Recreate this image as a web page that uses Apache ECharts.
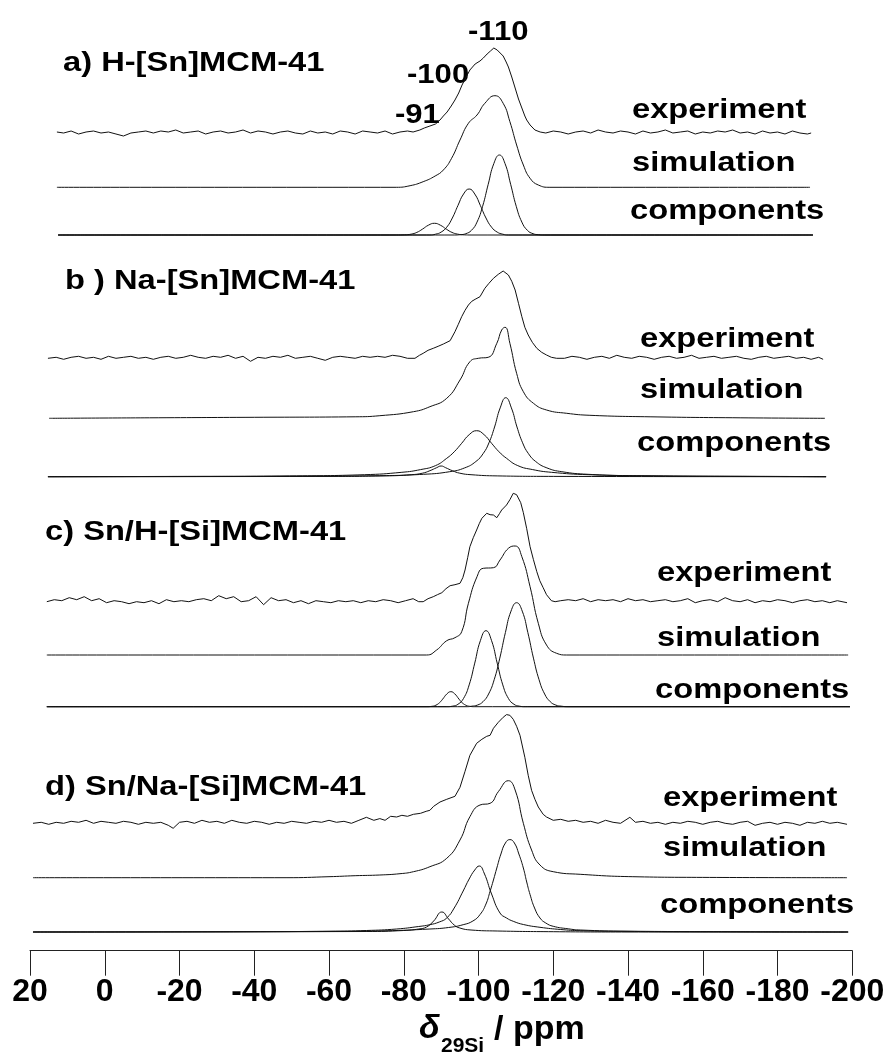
<!DOCTYPE html>
<html><head><meta charset="utf-8">
<script src="https://cdn.jsdelivr.net/npm/echarts@6/dist/echarts.min.js"></script>
<style>html,body{margin:0;padding:0;background:#fff}#c{width:894px;height:1059px}</style>
</head><body><div id="c"></div>
<script>
// ---------- tick labels / axis ----------
const xTicks = [20,0,-20,-40,-60,-80,-100,-120,-140,-160,-180,-200];
const panelTitles = ['a) H-[Sn]MCM-41','b ) Na-[Sn]MCM-41','c) Sn/H-[Si]MCM-41','d) Sn/Na-[Si]MCM-41'];
const traceNames = ['experiment','simulation','components'];
const peakLabels = ['-110','-100','-91'];

// ---------- panel a ----------
const expA = [[12.8,1],[11,0],[9,2],[7,-1],[5,1],[3,2],[1,0],[-1,1],[-3,-1],[-5,-3],[-7,0],[-9,1],[-11,2],[-13,0],[-15,2],[-17,1],[-19,3],[-21,0],[-23,1],[-25,2],[-27,-1],[-29,1],[-31,2],[-33,0],[-35,1],[-37,3],[-39,0],[-41,2],[-43,1],[-45,-1],[-47,1],[-49,2],[-51,0],[-53,-1],[-55,2],[-57,0],[-59,1],[-61,-1],[-63,2],[-65,1],[-67,-1],[-69,2],[-71,1],[-73,0],[-75,2],[-77,-1],[-79,1],[-81,2],[-82.5,1],
[-84.3,3],[-85.5,5],[-87,7],[-88.5,9],[-89.7,13],[-90.6,17],[-91.6,21],[-92.7,27],[-93.7,33],[-94.7,40],[-95.6,48],[-96.7,56],[-97.7,63],[-99.1,69],[-100.4,72],[-101.3,75],[-102.3,79],[-103.2,82],[-104.1,85],[-105,83],[-105.8,80],[-106.6,77],[-107.4,71],[-108,66],[-108.9,56],[-109.8,45],[-110.7,34],[-111.6,25],[-112.4,17],[-112.9,13],[-113.8,8],[-115.1,3],[-116.5,1],
[-118,0],[-120,2],[-122,1],[-124,-1],[-126,1],[-128,2],[-130,0],[-132,3],[-134,1],[-136,0],[-138,2],[-140,1],[-142,-1],[-144,2],[-146,0],[-148,1],[-150,3],[-152,0],[-154,1],[-156,2],[-158,-1],[-160,1],[-162,0],[-164,2],[-166,1],[-168,3],[-170,0],[-172,1],[-174,-1],[-176,2],[-178,0],[-180,1],[-182,-1],[-184,2],[-186,0],[-188,-1],[-189,0]];
const simA = [[12.8,0],[-78,0],[-81.7,1.6],[-85.2,5.6],[-88.4,11.3],[-90.6,17.3],[-92.8,29],[-95.05,47.3],[-97.3,64],[-99.6,72.3],[-101.7,84],[-104.4,91.6],[-106.6,84],[-108.4,65.6],[-110.2,42.3],[-112,22.3],[-113.8,9],[-116,2.3],[-119.1,0],[-188.7,0]];
const compA1 = [[12.5,0],[-78,0],[-80.2,0.15],[-82,0.87],[-83.5,2.6],[-85,5.85],[-86.6,9.8],[-88.2,11.7],[-89.8,9.8],[-91.4,5.85],[-92.9,2.6],[-94.4,0.87],[-96.2,0.15],[-98,0],[-189.5,0]];
const compA2 = [[12.5,0],[-87,0],[-88.5,0.8],[-90,2.9],[-91.5,7.8],[-93,17],[-94.5,29.5],[-96,41],[-97.5,46],[-99,41],[-100.5,29.5],[-102,17],[-103.5,7.8],[-105,2.9],[-106.5,0.8],[-108,0],[-189.5,0]];
const compA3 = [[12.5,0],[-93.5,0],[-95.1,0.3],[-96.6,1.3],[-98.1,4.6],[-99.6,12.9],[-101.1,28.7],[-102.6,50.7],[-104.1,71.4],[-105.6,80],[-107.1,71.4],[-108.6,50.7],[-110.1,28.7],[-111.6,12.9],[-113.1,4.6],[-114.6,1.3],[-116.1,0.3],[-117.6,0],[-189.5,0]];

// ---------- panel b ----------
const expB = [[15.2,0],[13,1],[11,-1],[9,1],[7,2],[5,0],[3,1],[1,-1],[-1,2],[-3,0],[-5,1],[-7,2],[-9,0],[-11,1],[-13,-1],[-15,1],[-17,2],[-19,0],[-21,1],[-23,3],[-25,1],[-27,0],[-29,2],[-31,1],[-33,3],[-35,0],[-37,2],[-39,-3],[-41,1],[-43,0],[-45,2],[-47,1],[-49,3],[-51,0],[-53,1],[-55,2],[-57,0],[-59,-2],[-61,1],[-63,2],[-65,1],[-67,0],[-69,2],[-71,1],[-73,2],[-75,1],[-77,3],[-79,2],[-81,0],[-83,0],
[-84.2,3],[-85.2,5],[-86.5,8],[-87.9,10],[-89.2,12],[-90.6,14.3],[-92.4,17.6],[-93.7,26.6],[-94.6,34],[-95.5,41.6],[-96.4,48],[-97.3,53.3],[-98.2,57],[-99.1,59],[-100.4,61.6],[-101.7,70],[-102.8,75],[-104,80],[-105.3,84],[-106.6,87.3],[-108,83.3],[-108.9,77],[-109.8,68.3],[-110.7,55],[-111.6,41.6],[-112.4,31],[-113.3,23.3],[-114.4,16],[-115.6,10],[-116.9,6],[-118.2,3.3],[-119.5,1],[-120.9,0],
[-123,0],[-125,2],[-127,1],[-129,-1],[-131,1],[-133,2],[-135,0],[-137,3],[-139,1],[-141,0],[-143,2],[-145,1],[-147,-1],[-149,1],[-151,2],[-153,0],[-155,1],[-157,3],[-159,0],[-161,1],[-163,2],[-165,0],[-167,1],[-169,2],[-171,0],[-173,-1],[-175,1],[-177,2],[-179,0],[-181,1],[-183,2],[-185,0],[-187,1],[-189,-1],[-191,1],[-192.2,-1]];
const simB = [[14.9,0],[-12,0.5],[-40,1],[-67,1.5],[-73.6,2.6],[-82.6,6.6],[-87,11.6],[-91.5,20],[-95.05,38.3],[-97.7,56.6],[-99.95,60],[-102.6,61],[-104.9,75],[-106.2,88.3],[-107.1,91],[-108.4,75],[-110.2,45],[-112,26.6],[-114.7,15],[-118.2,8.3],[-123.6,5],[-129.8,3],[-145.9,1.5],[-170,0.5],[-192.7,0]];
const compB1 = [[15.2,0],[-60,0.3],[-75,0.8],[-82,2],[-85,3.5],[-87,6],[-88.8,9],[-90,10.7],[-91.2,9],[-93,6],[-95,3.5],[-98,2],[-105,0.8],[-120,0.3],[-193,0]];
const compB2 = [[15.2,0],[-19.5,0.3],[-49.5,0.8],[-69.5,2.0],[-79.5,4.4],[-84.5,7.1],[-88.5,11.1],[-91.5,18.4],[-93.5,24.9],[-95.5,33.4],[-97.5,42],[-99.5,46],[-101.5,42],[-103.5,33.4],[-105.5,24.9],[-107.5,18.4],[-110.5,11.1],[-114.5,7.1],[-119.5,4.4],[-129.5,2.0],[-149.5,0.8],[-179.5,0.3],[-193,0]];
const compB3 = [[15.2,0],[-22.3,0.17],[-47.3,0.33],[-72.3,0.97],[-85.3,2.4],[-92.3,5],[-96.3,8.8],[-99.3,15.2],[-101.3,23.4],[-102.8,33.9],[-104.3,49.7],[-105.8,68.8],[-107.3,79],[-108.8,68.8],[-110.3,49.7],[-111.8,33.9],[-113.3,23.4],[-115.3,15.2],[-118.3,8.8],[-122.3,5],[-129.3,2.4],[-142.3,0.97],[-167.3,0.33],[-193,0]];

// ---------- panel c ----------
const expC = [[15.5,0],[13.5,2],[11.5,1],[9.5,4],[7.5,2],[5.5,5],[3.5,1],[1.5,3],[-0.5,-1],[-2.5,1],[-4.5,0],[-6.5,-2],[-8.5,0],[-10.5,-1],[-12.5,1],[-14.5,-2],[-16.5,2],[-18.5,0],[-20.5,1],[-22.5,0],[-24.5,2],[-26.5,3],[-28.5,1],[-30.5,6],[-32.5,3],[-34.5,5],[-36.5,0],[-38.5,1],[-40.5,5],[-42.5,-3],[-44.5,4],[-46.5,1],[-48.5,2],[-50.5,-1],[-52.5,1],[-54.5,-2],[-56.5,1],[-58.5,0],[-60.5,-1],[-62.5,1],[-64.5,0],[-66.5,1],[-68.5,-1],[-70.5,1],[-72.5,0],[-74.5,2],[-76.5,1],[-78.5,-1],[-80.5,1],[-82.5,3],[-84,0],
[-85.2,0],[-86.5,3],[-87.9,5],[-89,7],[-90.2,9],[-91.3,13],[-92.4,16],[-93.7,17],[-95.05,18.4],[-95.8,24],[-96.4,31.7],[-97.1,44],[-97.7,55],[-98.6,64],[-99.5,71.7],[-100.2,78],[-100.9,83.4],[-102.2,88.4],[-103.1,87],[-104,86.7],[-104.9,84],[-105.6,88],[-106.2,91.7],[-107.5,96.7],[-108.4,102],[-109.3,108.4],[-110.2,107],[-110.65,105],[-111.3,99],[-112,89],[-112.9,73],[-113.8,55],[-114.7,42],[-115.6,30],[-116.4,21],[-117.3,14],[-118.2,7],[-119.5,1],[-120.5,0],
[-122,1],[-124,2],[-126,1],[-128,3],[-130,0],[-132,2],[-134,1],[-136,2],[-138,0],[-140,3],[-142,1],[-144,2],[-146,0],[-148,1],[-150,2],[-152,0],[-154,1],[-156,3],[-158,-1],[-160,1],[-162,2],[-164,0],[-166,4],[-168,1],[-170,0],[-172,2],[-174,-1],[-176,1],[-178,0],[-180,2],[-182,1],[-184,-1],[-186,1],[-188,2],[-190,0],[-192,1],[-194,-1],[-196,1],[-198.6,-1]];
const simC = [[15.5,0],[-86.1,0],[-88.8,5],[-91.5,14.3],[-93.7,17.3],[-95.5,23.3],[-97.3,51.7],[-99.6,78.3],[-101.3,86.7],[-104,87.3],[-105.75,95],[-108,106.7],[-109.8,109],[-111.6,98.3],[-113.8,68.3],[-116,31.7],[-118.2,10],[-120.9,1.7],[-123.6,0],[-198.9,0]];
const compC1 = [[15.5,0],[-86,0],[-87.6,0.4],[-88.6,1.5],[-89.6,4.1],[-90.4,7.5],[-91.6,13],[-92.6,15],[-93.6,13],[-94.8,7.5],[-95.6,4.1],[-96.6,1.5],[-97.6,0.4],[-99,0],[-199.4,0]];
const compC2 = [[15.5,0],[-91.5,0],[-93,0.5],[-94.5,2.4],[-96,8.3],[-97.5,21.8],[-99,43.6],[-100.5,66],[-102,76],[-103.5,66],[-105,43.6],[-106.5,21.8],[-108,8.3],[-109.5,2.4],[-111,0.5],[-112.5,0],[-199.4,0]];
const compC3 = [[15.5,0],[-97,0],[-98.2,0.5],[-99.7,1.6],[-101.2,5],[-102.7,12.7],[-104.2,27],[-105.7,48.6],[-107.2,74.2],[-108.7,95.6],[-110.2,104],[-111.7,95.6],[-113.2,74.2],[-114.7,48.6],[-116.2,27],[-117.7,12.7],[-119.2,5],[-120.7,1.6],[-122.2,0.5],[-124,0],[-199.4,0]];

// ---------- panel d ----------
const expD = [[19.2,0],[17,1],[15,-1],[13,1],[11,0],[9,2],[7,1],[5,3],[3,0],[1,2],[-1,1],[-3,0],[-5,2],[-7,1],[-9,-1],[-11,1],[-13,0],[-15,1],[-17,-2],[-18.3,-5],[-20,1],[-22,2],[-24,0],[-26,3],[-28,1],[-30,2],[-32,0],[-34,3],[-36,1],[-38,0],[-40,2],[-42,1],[-44,-1],[-46,1],[-48,0],[-50,2],[-52,1],[-54,0],[-56,2],[-58,1],[-60,3],[-62,1],[-64,2],[-66,0],[-68,3],[-70,6],[-72,3],[-73.6,4.7],
[-75,3],[-76.5,7],[-78.1,6.3],[-79.5,8],[-81,7],[-82.6,9],[-84.5,10],[-86,12],[-87,13],[-88,17],[-89.7,21.3],[-91.5,24],[-93.7,27],[-95.05,36],[-96.4,52],[-97.7,68],[-99.5,80],[-100.9,84],[-102.2,87],[-103.1,88],[-104,95],[-105.3,101],[-106.6,106],[-107.5,108.7],[-108.4,108],[-109.3,104],[-110.2,97],[-111.1,88],[-112.4,66],[-113.3,48],[-114.2,33],[-115.1,24],[-116,16.3],[-117.3,9],[-118.2,6.3],[-120,3],[-122,4],[-124,2],
[-126,3],[-128,1],[-130,2],[-132,0],[-134,3],[-136,1],[-138,0],[-140.5,6],[-142,1],[-144,2],[-146,0],[-148,1],[-150,-1],[-152,1],[-154,0],[-156,2],[-158,1],[-160,-1],[-162,1],[-164,2],[-166,0],[-168,-1],[-170,1],[-172,2],[-174,-2],[-176,0],[-178,1],[-180,-1],[-182,1],[-184,0],[-186,-2],[-188,1],[-190,0],[-192,2],[-194,0],[-196,1],[-198.6,-1]];
const simD = [[19.2,0],[-48.5,0],[-60,1],[-67,2],[-73.6,2.7],[-79,4],[-82.6,6],[-87,11],[-91.5,19.4],[-95.05,37.7],[-97.7,61],[-100.4,72.7],[-103.1,74.4],[-105.3,86],[-108,97],[-109.8,87.7],[-112,54.4],[-114.2,27.7],[-116.45,12.7],[-120,6],[-127.2,3.4],[-141.3,1],[-160,0.3],[-198.6,0]];
const compD1 = [[19.2,0],[-70,0.5],[-80,1.5],[-84,3],[-86.1,5],[-88,11],[-90.2,20],[-92,13],[-93.5,7],[-95,4],[-98,2],[-105,1],[-120,0.3],[-140,0],[-198.9,0]];
const compD2 = [[19.2,0],[-40,0.3],[-60,0.8],[-70,1.5],[-78.1,3],[-84,5.5],[-87,7.3],[-89.5,10],[-91.5,14],[-93.5,24],[-95.9,41],[-97.5,53],[-99,62],[-100.2,66],[-101.5,59],[-103.5,38],[-105.75,19],[-107.5,14],[-109.3,10.7],[-112,7.5],[-116.45,4.7],[-122,2.5],[-127.2,1.3],[-140,0.6],[-160,0.2],[-198.9,0]];
const compD3 = [[19.2,0],[-60,0.5],[-75,1.2],[-87,3],[-92,4.5],[-95.9,7.3],[-98.5,11],[-100.4,17.4],[-102,28],[-103.1,40.7],[-104,52],[-104.9,64],[-106,78],[-107.2,89],[-108.4,92.4],[-109.6,89],[-110.8,78],[-112,64],[-112.9,50],[-113.8,37.4],[-115,24],[-116.45,14],[-118,9],[-120,5.7],[-124,3.2],[-127.2,2],[-140,0.8],[-170,0.3],[-198.9,0]];

// ---------- layout (vertical offsets of each trace, in y-axis units = px above the x axis) ----------
const AXIS_Y = 950.7;
const layout = [
  {exp:expA, sim:simA, comps:[compA1,compA2,compA3], off:[817.7,763.4,715.7]},
  {exp:expB, sim:simB, comps:[compB1,compB2,compB3], off:[592.4,532.4,474.0]},
  {exp:expC, sim:simC, comps:[compC1,compC2,compC3], off:[349.0,295.7,244.0]},
  {exp:expD, sim:simD, comps:[compD1,compD2,compD3], off:[127.4,73.0,18.7]}
];

function shift(arr, off){ return arr.map(p => [p[0], p[1] + off]); }
const series = [];
const LC = '#111';
layout.forEach(p => {
  series.push({type:'line', data:shift(p.exp,p.off[0]), symbol:'none', lineStyle:{color:LC,width:1}, silent:true});
  series.push({type:'line', data:shift(p.sim,p.off[1]), symbol:'none', smooth:0.5, lineStyle:{color:LC,width:1}, silent:true});
  p.comps.forEach(c => series.push({type:'line', data:shift(c,p.off[2]), symbol:'none', smooth:0.5, lineStyle:{color:LC,width:1}, silent:true}));
});

// ---------- text placement ----------
const FONT = '"Liberation Sans", Arial, Helvetica, sans-serif';
function txt(t, x, y, size, sx, extra){
  return Object.assign({type:'text', x:x, y:y, scaleX:sx, silent:true,
    style:Object.assign({text:t, fill:'#000', fontSize:size, fontWeight:'bold', fontFamily:FONT, textAlign:'left', textVerticalAlign:'middle', align:'left', verticalAlign:'middle'}, extra||{})});
}
const titlePos = [[63,64],[65,282],[45,532.5],[45,787.5]];
const namePos = [
  [[632,111],[632,164],[630,211.5]],
  [[640,339.5],[640,391],[637,443.5]],
  [[657,573.5],[657,639],[655,691]],
  [[663,798.5],[663,849],[660,906]]
];
const peakPos = [[468,32.5],[407,76],[395,116]];
const graphics = [];
panelTitles.forEach((t,i) => graphics.push(txt(t, titlePos[i][0], titlePos[i][1], 27, 1.21)));
namePos.forEach(row => row.forEach((pp,j) => graphics.push(txt(traceNames[j], pp[0], pp[1], 27, 1.21))));
peakLabels.forEach((t,i) => graphics.push(txt(t, peakPos[i][0], peakPos[i][1], 27, 1.15)));
// axis title: delta (italic) + subscript + "/ ppm"
graphics.push(txt('δ', 419, 1029, 34, 1, {fontStyle:'italic'}));
graphics.push(txt('29Si', 441, 1046, 21, 1));
graphics.push(txt('/ ppm', 494, 1030, 34, 1));

const chart = echarts.init(document.getElementById('c'), null, {renderer:'canvas'});
chart.setOption({
  animation:false,
  backgroundColor:'#fff',
  grid:{left:30, right:41.75, top:0, bottom:1059-AXIS_Y, containLabel:false},
  xAxis:{type:'value', min:xTicks[xTicks.length-1], max:xTicks[0], interval:20, inverse:true,
    axisLine:{show:true, onZero:false, lineStyle:{color:'#222', width:1}},
    axisTick:{show:true, inside:false, length:25, lineStyle:{color:'#222', width:1}},
    axisLabel:{show:true, margin:25, fontSize:32, fontWeight:'bold', fontFamily:FONT, color:'#000', showMinLabel:true, showMaxLabel:true,
      formatter: v => String(v)},
    splitLine:{show:false}},
  yAxis:{type:'value', min:0, max:AXIS_Y, show:false, splitLine:{show:false}},
  series: series,
  graphic: graphics
});
</script></body></html>
